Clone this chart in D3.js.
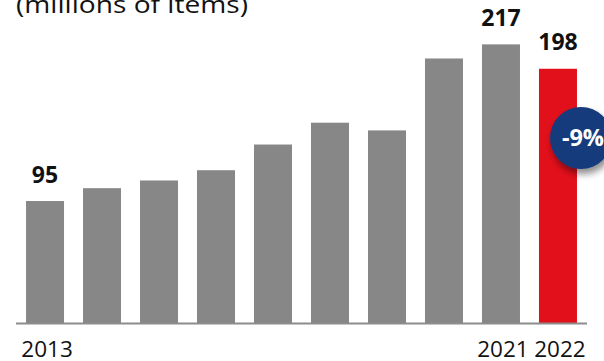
<!DOCTYPE html>
<html>
<head>
<meta charset="utf-8">
<script src="https://cdn.jsdelivr.net/npm/d3@7"></script>
<style>
  html, body { margin: 0; padding: 0; background: #fff; }
  svg { display: block; }
  text { font-family: "Open Sans", "Noto Sans", sans-serif; }
</style>
</head>
<body>
<svg id="chart" width="604" height="361"></svg>
<script>
// Items handled per year, in millions
const years  = ["2013", "2014", "2015", "2016", "2017", "2018", "2019", "2020", "2021", "2022"];
const values = [95, 105, 111, 119, 139, 156, 150, 206, 217, 198];
// Years and values that carry a printed label
const yearLabels  = ["2013", "2021", "2022"];
const valueLabels = ["2013", "2021", "2022"];
const highlightYear = "2022";
const changeLabel = "-9%";
const unitLabel = "(millions of items)";

const svg = d3.select("#chart");
const baseY = 323;

const x = d3.scaleBand()
  .domain(years)
  .range([16, 587])
  .paddingInner(1 / 3)
  .paddingOuter(0.176);

const y = d3.scaleLinear()
  .domain([0, 250])
  .range([baseY, 2]);

const data = years.map((yr, i) => ({ year: yr, value: values[i] }));

// Soft shadow for the change badge
const defs = svg.append("defs");
const f = defs.append("filter").attr("id", "badgeShadow")
  .attr("x", "-50%").attr("y", "-50%").attr("width", "200%").attr("height", "200%");
f.append("feDropShadow")
  .attr("dx", 2).attr("dy", 5).attr("stdDeviation", 3.5)
  .attr("flood-color", "#000").attr("flood-opacity", 0.45);

// Unit caption (runs off the top edge)
svg.append("text")
  .attr("x", 16).attr("y", 13)
  .attr("font-size", 23)
  .attr("textLength", 232)
  .attr("lengthAdjust", "spacingAndGlyphs")
  .attr("fill", "#111")
  .text(unitLabel);

// Bars
svg.append("g").selectAll("rect")
  .data(data)
  .join("rect")
  .attr("x", d => x(d.year))
  .attr("y", d => y(d.value))
  .attr("width", x.bandwidth())
  .attr("height", d => y(0) - y(d.value))
  .attr("fill", d => d.year === highlightYear ? "#e2101b" : "#878787");

// Baseline
svg.append("line")
  .attr("x1", x.range()[0]).attr("x2", x.range()[1])
  .attr("y1", y(0) + 0.5).attr("y2", y(0) + 0.5)
  .attr("stroke", "#8c8c8c")
  .attr("stroke-width", 2);

// Value labels above selected bars
svg.append("g").selectAll("text")
  .data(data.filter(d => valueLabels.includes(d.year)))
  .join("text")
  .attr("x", d => x(d.year) + x.bandwidth() / 2)
  .attr("y", d => y(d.value) - 18.5)
  .attr("text-anchor", "middle")
  .attr("font-size", 23)
  .attr("font-weight", 700)
  .attr("fill", "#111")
  .text(d => d.value);

// Year labels under the axis
svg.append("g").selectAll("text")
  .data(yearLabels)
  .join("text")
  .attr("x", d => x(d) + x.bandwidth() / 2 + 2)
  .attr("y", 356.5)
  .attr("text-anchor", "middle")
  .attr("font-size", 22.5)
  .attr("fill", "#111")
  .text(d => d);

// Change badge beside the latest bar
const bx = x(highlightYear) + x.bandwidth() + 4;
const by = 138;
svg.append("circle")
  .attr("cx", bx).attr("cy", by).attr("r", 31)
  .attr("fill", "#163a7b")
  .attr("filter", "url(#badgeShadow)");
svg.append("text")
  .attr("x", bx + 2).attr("y", by + 8)
  .attr("text-anchor", "middle")
  .attr("font-size", 23.5)
  .attr("font-weight", 700)
  .attr("fill", "#fff")
  .text(changeLabel);
</script>
</body>
</html>
